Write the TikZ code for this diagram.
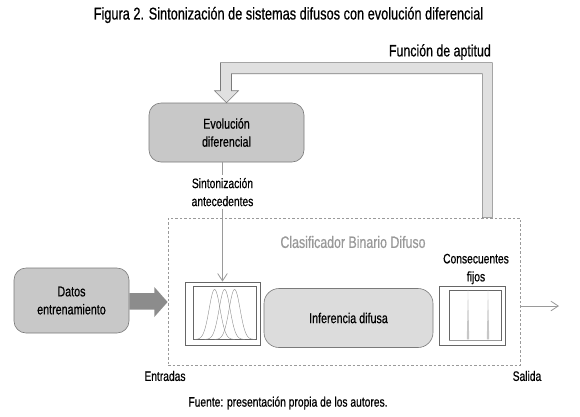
\documentclass[tikz,border=0pt]{standalone}
\usepackage{fontspec}
\setmainfont{Liberation Sans}[FakeStretch=0.75,FakeBold=0.6]
\usetikzlibrary{arrows.meta,positioning,calc}
\definecolor{grisoscuro}{HTML}{8C8C8C}
\definecolor{grismedio}{HTML}{C8C8C8}
\definecolor{grisclaro}{HTML}{DCDCDC}
\definecolor{grisfondo}{HTML}{E0E0E0}
\definecolor{grisborde}{HTML}{7A7A7A}
\definecolor{grislinea}{HTML}{9A9A9A}
\tikzset{
  >={Straight Barb[length=2.6mm,width=3.4mm]},
  % cajas
  caja/.style={rounded corners=12pt,draw=grisborde,line width=0.6pt,fill=grismedio,
               align=center,inner sep=0pt,font=\fontsize{14.3}{18}\selectfont},
  cajaclara/.style={caja,fill=grisclaro,rounded corners=15pt},
  marco/.style={draw=black!60,line width=0.8pt,inner sep=0pt},
  clasif/.style={draw=grislinea,line width=0.8pt,dash pattern=on 2.5pt off 2pt,inner sep=0pt},
  % textos
  etq/.style={align=center,inner sep=0pt,font=\fontsize{13.7}{18}\selectfont},
  titulo/.style={inner sep=0pt,font=\fontsize{17}{20}\selectfont},
  % flechas
  flecha/.style={->,draw=grislinea,line width=0.8pt},
  gruesa/.style={fill=grisoscuro,draw=none},
  hueca/.style={fill=grisfondo,draw=grisborde,line width=0.6pt,line join=miter},
  curva/.style={draw=black!45,line width=0.4pt},
}
\begin{document}
\begin{tikzpicture}[x=1pt,y=-1pt]
\useasboundingbox (0,0) rectangle (580,416);
  \node[titulo] (tit) at (288.5,15) {Figura 2. Sintonización de sistemas difusos con evolución diferencial};
  \node[caja,minimum width=155pt,minimum height=59pt] (evo) at (226.5,132.5) {Evolución\\diferencial};
  \node[caja,minimum width=115pt,minimum height=65pt] (datos) at (71.5,300.5) {Datos\\entrenamiento};
  \node[clasif,minimum width=352pt,minimum height=147pt] (clas) at (344,291.5) {};
  \node[etq,text=black!40,font=\fontsize{16.5}{20}\selectfont] (clasl) at (353,242) {Clasificador Binario Difuso};
  \node[marco,minimum width=75pt,minimum height=63pt] (ant) at (222.5,313.5) {};
  \node[marco,minimum width=63pt,minimum height=53pt] (antin) at (224.5,312.5) {};
  \node[cajaclara,minimum width=169pt,minimum height=59pt] (inf) at (348.5,318) {Inferencia difusa};
  \node[marco,minimum width=66pt,minimum height=59pt] (cons) at (472,315.5) {};
  \node[marco,minimum width=52pt,minimum height=50pt] (consin) at (475,315) {};
  \node[etq] (consl) at (476,269) {Consecuentes\\fijos};
  \node[etq,font=\fontsize{16.5}{20}\selectfont,anchor=east] (apt) at (491,52) {Función de aptitud};
  \node[etq] (ent) at (165,376) {Entradas};
  \node[etq] (sal) at (527,376) {Salida};
  \node[etq] (fte) at (288,403) {Fuente: presentación propia de los autores.};
  % funciones de pertenencia
  \begin{scope}[shift={(antin.south west)}]
    \foreach \m in {22,32,42}
      \draw[curva] plot[domain=-20:20,samples=51,smooth] ({\m+\x},{-50*exp(-(\x*\x)/60)});
  \end{scope}
  % consecuentes fijos
  \draw[draw=grislinea,line width=1.5pt] (consin.south west) -- (consin.south east);
  \foreach \c in {-7,13}
    \fill[black!22] ($(consin.south)+(\c-1.2,-1)$) -- ($(consin.north)+(\c,0)$) -- ($(consin.south)+(\c+1.2,-1)$) -- cycle;
  % flechas
  \draw[flecha] (ant.north |- evo.south) -- node[etq,pos=0.25,fill=white,inner ysep=3pt] (sint) {Sintonización\\antecedentes} (ant.north);
  \coordinate (salida) at (559,306);
  \draw[flecha] (clas.east |- salida) -- (salida);
  \fill[gruesa] ($(datos.east)+(0,-7.5)$) -- ++(25,0) -- ++(0,-6) -- ($(clas.west)+(0,10.5)$)
    -- ($(datos.east)+(25,16.5)$) -- ++(0,-7.5) -- ++(-25,0) -- cycle;
  \coordinate (fa) at ($(clas.north east)+(-33,0)$);
  \draw[hueca] ($(fa)+(-5,0)$) |- ($(evo.north)+(5,-29)$) -- ++(0,17) -- ++(7,0) -- (evo.north)
    -- ++(-12,-12) -- ++(6,0) |- ($(fa)+(5,-155)$) -- ($(fa)+(5,0)$) -- cycle;
\end{tikzpicture}
\end{document}
